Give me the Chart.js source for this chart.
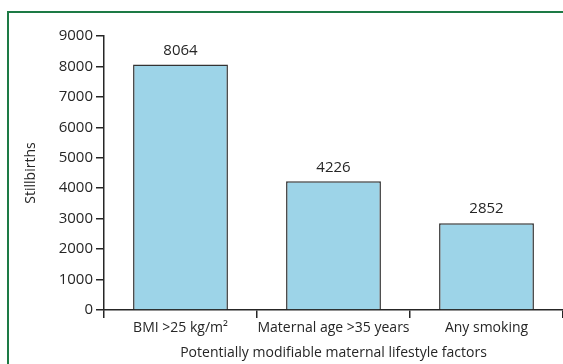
<!DOCTYPE html>
<html><head><meta charset="utf-8">
<script src="https://cdn.jsdelivr.net/npm/chart.js@4.4.1/dist/chart.umd.min.js"></script>
<style>html,body{margin:0;padding:0;background:#fff}#wrap{width:563px;height:364px;position:relative}</style>
</head><body><div id="wrap"><canvas id="c" width="563" height="364"></canvas></div>
<script>
const categories = ["BMI >25 kg/m²", "Maternal age >35 years", "Any smoking"];
const stillbirths = [8064, 4226, 2852];
const yTicks = [0,1000,2000,3000,4000,5000,6000,7000,8000,9000];
const FONT = "'Open Sans', 'Noto Sans', sans-serif";
const INK = '#262626';

const framePlugin = {
  id: 'frame',
  beforeDraw(chart) {
    const ctx = chart.ctx;
    ctx.save();
    ctx.strokeStyle = '#1d7a45';
    ctx.lineWidth = 2;
    ctx.beginPath();
    ctx.moveTo(8, 364); ctx.lineTo(8, 12); ctx.lineTo(563, 12);
    ctx.stroke();
    ctx.restore();
  }
};
const valuePlugin = {
  id: 'values',
  afterDatasetsDraw(chart) {
    const ctx = chart.ctx;
    const meta = chart.getDatasetMeta(0);
    ctx.save();
    ctx.font = "15px " + FONT;
    ctx.fillStyle = INK;
    ctx.textAlign = 'center';
    ctx.textBaseline = 'middle';
    meta.data.forEach((bar, i) => {
      ctx.fillText(String(stillbirths[i]), bar.x, bar.y - 14);
    });
    ctx.restore();
  }
};

new Chart(document.getElementById('c'), {
  type: 'bar',
  data: {
    labels: categories,
    datasets: [{
      data: stillbirths,
      backgroundColor: '#9dd4e8',
      borderColor: '#333333',
      borderWidth: 1.5,
      borderSkipped: 'bottom',
      barPercentage: 0.62,
      categoryPercentage: 1.0
    }]
  },
  options: {
    responsive: false,
    animation: false,
    devicePixelRatio: 1,
    layout: { padding: { left: 20, top: 36, right: 0, bottom: 0 } },
    plugins: { legend: { display: false }, tooltip: { enabled: false } },
    scales: {
      x: {
        offset: true,
        grid: { offset: true, drawOnChartArea: false, drawTicks: true, tickLength: 8, color: INK, lineWidth: 1.5 },
        border: { display: true, color: INK, width: 1.5 },
        ticks: { color: INK, font: { family: FONT, size: 14 }, padding: 2, maxRotation: 0, autoSkip: false },
        title: { display: true, text: 'Potentially modifiable maternal lifestyle factors', color: INK, font: { family: FONT, size: 14 }, padding: { top: 2, bottom: 3 } },
        afterFit(s) { s.height = 54; }
      },
      y: {
        min: 0, max: 9000,
        afterBuildTicks(s) { s.ticks = yTicks.map(v => ({ value: v })); },
        grid: { drawOnChartArea: false, drawTicks: true, tickLength: 8, color: INK, lineWidth: 1.5 },
        border: { display: true, color: INK, width: 1.5 },
        ticks: { color: INK, font: { family: FONT, size: 15 }, padding: 3, callback: v => String(v) },
        title: { display: true, text: 'Stillbirths', color: INK, font: { family: FONT, size: 14 }, padding: { top: 3, bottom: 4 } },
        afterFit(s) { s.width = 84; }
      }
    }
  },
  plugins: [framePlugin, valuePlugin]
});
</script></body></html>
